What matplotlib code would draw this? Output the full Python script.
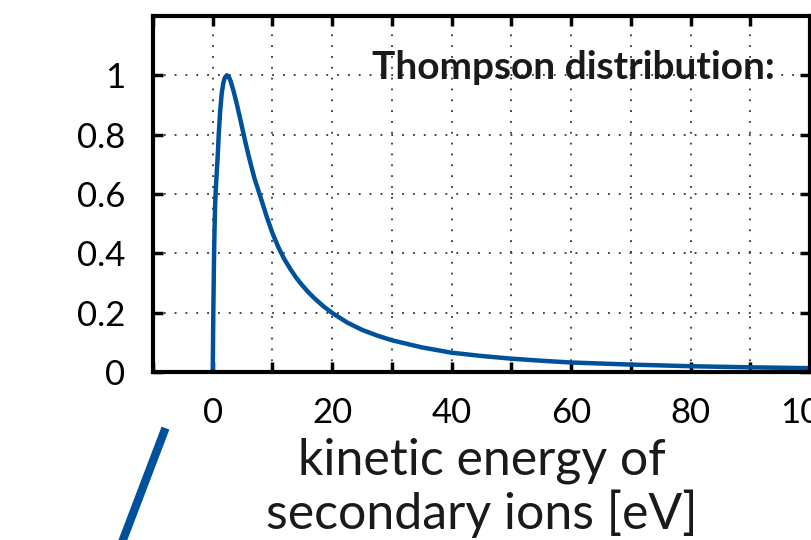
import matplotlib.pyplot as plt
from matplotlib.lines import Line2D

# curve: kinetic energy [eV] vs normalised yield
energy = [0, 0.1, 0.2, 0.3, 0.4, 0.5, 0.62, 0.77, 0.9, 1.0, 1.25, 1.5, 1.75,
          2.0, 2.35, 2.7, 3.0, 3.5, 4.0, 4.5, 5.0, 5.5, 6.0, 6.5, 7.0, 8.0,
          9.0, 10.0, 11.0, 12.0, 13.0, 14.0, 15.0, 16.0, 17.0, 18.5, 20.0,
          22.5, 25, 27.5, 30, 35, 40, 45, 50, 55, 60, 70, 80, 90, 100]
yield_ = [0, 0.2, 0.36, 0.48, 0.56, 0.61, 0.655, 0.705, 0.755, 0.8, 0.88,
          0.938, 0.972, 0.991, 1.0, 0.995, 0.98, 0.946, 0.906, 0.862, 0.817,
          0.772, 0.73, 0.69, 0.652, 0.59, 0.526, 0.468, 0.42, 0.38, 0.347,
          0.317, 0.292, 0.269, 0.249, 0.222, 0.199, 0.167, 0.142, 0.123, 0.107,
          0.083, 0.065, 0.054, 0.045, 0.038, 0.032, 0.025, 0.0195, 0.0158, 0.013]

xticks = [-10, 0, 10, 20, 30, 40, 50, 60, 70, 80, 90, 100]
xlabels = ['', '0', '', '20', '', '40', '', '60', '', '80', '', '100']
yticks = [0, 0.2, 0.4, 0.6, 0.8, 1.0]
ylabels = ['0', '0.2', '0.4', '0.6', '0.8', '1']

blue = '#00519c'
plt.rcParams['font.family'] = ['Lato', 'DejaVu Sans']

fig = plt.figure(figsize=(8.11, 5.40), dpi=100)
ax = fig.add_axes([153/811, 1 - 372/540, 657/811, 356/540])

ax.plot(energy, yield_, color=blue, lw=3.2)

ax.set_xlim(-10, 100)
ax.set_ylim(0, 1.2)
ax.set_xticks(xticks)
ax.set_xticklabels(xlabels)
ax.set_yticks(yticks)
ax.set_yticklabels(ylabels)
ax.tick_params(direction='in', length=7, width=2.5, top=True, right=True,
               labelsize=25, pad=18, colors='black')
ax.tick_params(axis='y', pad=20)
for s in ax.spines.values():
    s.set_linewidth(3)
ax.grid(True, color='#333333', linestyle=(0, (1, 5)), linewidth=1.3)

ax.text(0.947, 0.855, 'Thompson distribution:', transform=ax.transAxes,
        ha='right', va='center', fontsize=28, fontweight='bold', color='#1a1a1a')

fig.text(482/811, 1 - 488/540, 'kinetic energy of\nsecondary ions [eV]',
         ha='center', va='center', fontsize=36, linespacing=1.13, color='#1a1a1a')

# stroke of the surrounding diagram, lower left
fig.add_artist(Line2D([164/811, 121/811], [1 - 432/540, 1 - 545/540],
                      transform=fig.transFigure, color=blue, lw=6))

fig.savefig('out.png', dpi=100)
